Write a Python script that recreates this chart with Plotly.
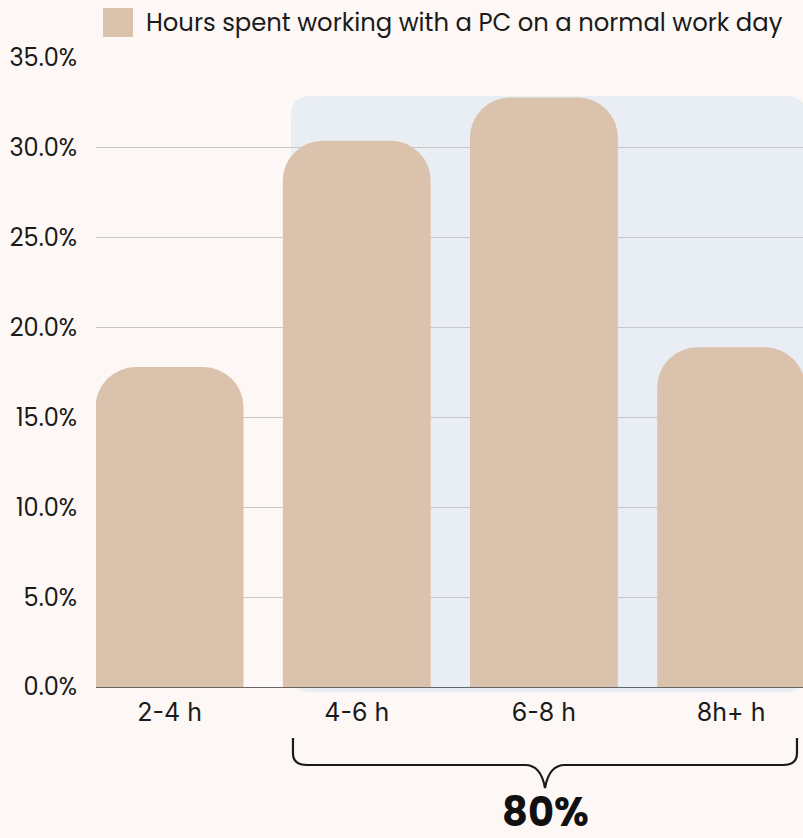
import plotly.graph_objects as go

# data
categories = ["2-4 h", "4-6 h", "6-8 h", "8h+ h"]
shares = [17.8, 30.4, 32.8, 18.9]
series_name = "Hours spent working with a PC on a normal work day"
highlight_label = "80%"

BG = "#fdf8f5"
BAR = "#dbc2ac"
BLUE = "#e8eef3"
FONT = "Poppins, Open Sans, sans-serif"
TICKFONT = "Inter, Roboto, sans-serif"

W, H = 803, 838
L, T = 96, 58
R, B = 0, 838 - 687
pw, ph = W - L - R, H - T - B


def px(x, y):
    # page pixel position -> paper coords
    return (x - L) / pw, (H - B - y) / ph


def path(points):
    out = []
    for cmd, *xy in points:
        coords = []
        for i in range(0, len(xy), 2):
            a, b = px(xy[i], xy[i + 1])
            coords.append(f"{a:.4f},{b:.4f}")
        out.append(cmd + " ".join(coords))
    return " ".join(out)


fig = go.Figure(
    go.Bar(
        x=categories,
        y=shares,
        marker=dict(color=BAR, cornerradius=40, line=dict(width=0)),
        width=0.79,
        showlegend=False,
    )
)

# highlighted region behind the last three bars
r = 20
x0, x1, y0, y1 = 291, 806, 96, 692
blue = path([
    ("M", x0 + r, y0), ("L", x1 - r, y0), ("Q", x1, y0, x1, y0 + r),
    ("L", x1, y1 - r), ("Q", x1, y1, x1 - r, y1),
    ("L", x0 + r, y1), ("Q", x0, y1, x0, y1 - r),
    ("L", x0, y0 + r), ("Q", x0, y0, x0 + r, y0),
]) + " Z"
fig.add_shape(type="path", path=blue, xref="paper", yref="paper",
              fillcolor=BLUE, line=dict(width=0), layer="below")

# curly brace under the highlighted bars
bx0, bx1, by0, by1, tip = 293, 797, 738, 765, 788
cx = (bx0 + bx1) / 2
brace = path([
    ("M", bx0, by0), ("L", bx0, by1 - 12), ("Q", bx0, by1, bx0 + 14, by1),
    ("L", cx - 20, by1), ("Q", cx - 4, by1, cx, tip),
    ("Q", cx + 4, by1, cx + 20, by1),
    ("L", bx1 - 14, by1), ("Q", bx1, by1, bx1, by1 - 12), ("L", bx1, by0),
])
fig.add_shape(type="path", path=brace, xref="paper", yref="paper",
              line=dict(color="#1a1a1a", width=2.2))

ax, ay = px(cx, 812)
fig.add_annotation(x=ax, y=ay, xref="paper", yref="paper", text=f"<b>{highlight_label}</b>",
                   showarrow=False, xanchor="center", yanchor="middle", borderpad=0,
                   font=dict(size=40, color="#111", family=FONT))

# legend swatch + label
lx0, ly0 = px(103, 8)
lx1, ly1 = px(133, 37)
fig.add_shape(type="rect", x0=lx0, x1=lx1, y0=ly0, y1=ly1, xref="paper", yref="paper",
              fillcolor=BAR, line=dict(width=0))
tx, ty = px(144, 22)
fig.add_annotation(x=tx, y=ty, xref="paper", yref="paper", text=series_name,
                   xanchor="left", yanchor="middle", showarrow=False,
                   font=dict(size=24.3, color="#1a1a1a", family=FONT))

fig.update_layout(
    width=W, height=H,
    margin=dict(l=L, r=R, t=T, b=B),
    paper_bgcolor=BG, plot_bgcolor="rgba(0,0,0,0)",
    font=dict(family=FONT, size=24, color="#1a1a1a"),
)
fig.update_xaxes(range=[-0.393, 3.384], showgrid=False, ticks="", showline=False,
                 ticklabelstandoff=8, tickfont=dict(size=25, family=TICKFONT))
fig.update_yaxes(range=[0, 35], dtick=5, tickformat=".1f", ticksuffix="%",
                 gridcolor="#c9c6c4", gridwidth=1, zeroline=True, zerolinecolor="#666",
                 zerolinewidth=1, ticklabelstandoff=18, tickfont=dict(size=24))

# drop the default 8px page margin so the figure fills the window
fig.write_html("out.html", config={"displayModeBar": False},
               post_script="document.body.style.margin='0';")
